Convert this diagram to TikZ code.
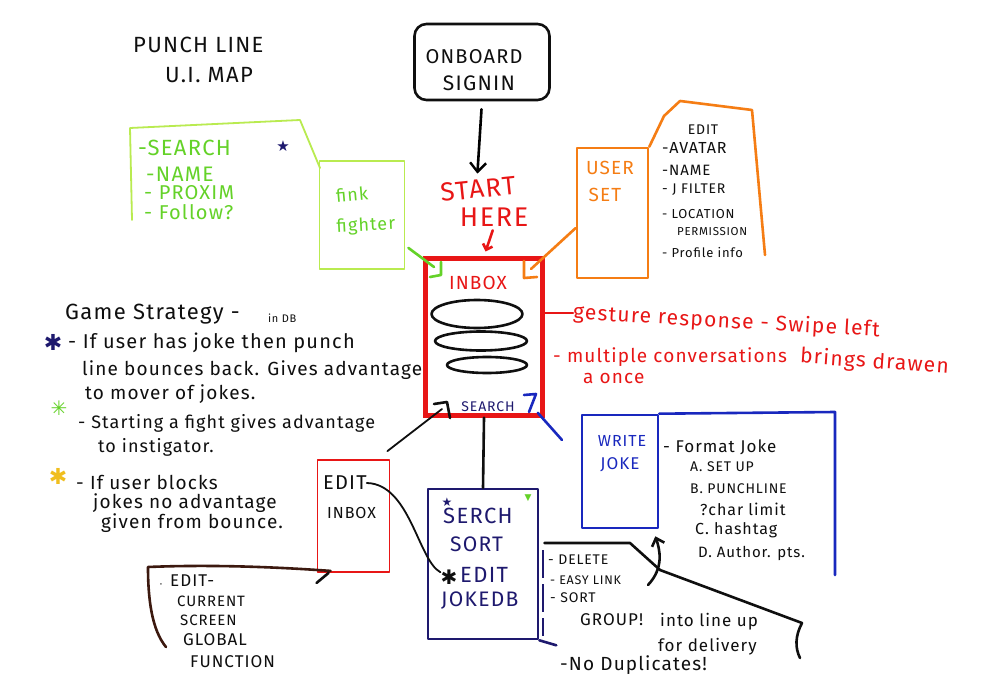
\documentclass[tikz,border=0pt]{standalone}
\usepackage{fontspec}
\setmainfont{Fira Sans}[LetterSpace=6]
\newfontfamily\symf{DejaVu Sans}
\usetikzlibrary{arrows.meta,calc,shapes.geometric}
\definecolor{mred}{RGB}{232,22,22}
\definecolor{mgreen}{RGB}{100,210,40}
\definecolor{mlgreen}{RGB}{185,235,80}
\definecolor{morange}{RGB}{245,125,20}
\definecolor{myellow}{RGB}{240,190,30}
\definecolor{mnavy}{RGB}{30,25,110}
\definecolor{mblue}{RGB}{25,40,190}
\definecolor{mink}{RGB}{15,15,15}
\definecolor{mbrown}{RGB}{60,25,15}
\newcommand\fsz[1]{\fontsize{#1}{#1}\selectfont}
\tikzset{
  pen/.style={line width=2.6pt,line cap=round,line join=round},
  thinpen/.style={line width=1.8pt,line cap=round,line join=round},
  lbl/.style={inner sep=0pt,anchor=west,text=mink},
  clbl/.style={inner sep=0pt,anchor=center,text=mink},
  barb/.style={-{Straight Barb[length=9pt,width=16pt,line width=2.4pt]}},
}
\begin{document}
\begin{tikzpicture}[x=1pt,y=-1pt]
\useasboundingbox[fill=white] (0,0) rectangle (1000,700);

% ---------- title
\node[lbl,font=\fsz{22}] (t1) at (133,45) {PUNCH LINE};
\node[lbl,font=\fsz{22}] (t2) at (165,75) {U.I. MAP};

% ---------- onboard
\node[draw=mink,pen,rounded corners=12pt,minimum width=135pt,minimum height=76pt] (onb) at (482,62) {};
\node[clbl,font=\fsz{20}] (onb1) at (474,57) {ONBOARD};
\node[clbl,font=\fsz{21}] (onb2) at (479,83) {SIGNIN};

% ---------- start here
\node[clbl,font=\fsz{26},text=mred,rotate=6] (st1) at (478,189) {START};
\node[clbl,font=\fsz{27},text=mred] (st2) at (494,217) {HERE};
\draw[pen,barb,shorten <=8pt,shorten >=6pt] (onb.south) -- (st1.north);

% ---------- inbox
\node[draw=mred,line width=4.5pt,minimum width=117pt,minimum height=157pt] (inbox) at (484,337) {};
\draw[mred,pen,-{Straight Barb[length=5pt,width=10pt]},shorten <=4pt,shorten >=5pt] (st2.south) -- (inbox.north);
\node[clbl,font=\fsz{19},text=mred] (inb) at (478,283) {INBOX};
\node[draw=mink,pen,ellipse,minimum width=91pt,minimum height=28pt,inner sep=0pt] (el1) at (477,314) {};
\node[draw=mink,pen,ellipse,minimum width=92pt,minimum height=19pt,inner sep=0pt] (el2) at (481,341) {};
\node[draw=mink,pen,ellipse,minimum width=80pt,minimum height=16pt,inner sep=0pt] (el3) at (487,365) {};
\node[clbl,font=\fsz{14},text=mnavy] (srch) at (488,407) {SEARCH};
\draw[mink,pen] (434,404) -- (447,402) -- (450,418);
\draw[mblue,pen] (524,395) -- (536,394) -- (529,412);
% corner squares
\draw[mgreen,pen] (441,262) -- (441,275) -- (430,277);
\draw[morange,pen] (524,261) -- (524,278) -- (537,277);

% ---------- green search / fink fighter
\draw[mlgreen,thinpen] (132,220) -- (130,128) -- (300,120) -- (320,168);
\node[lbl,font=\fsz{22},text=mgreen] (g1) at (138,148) {-SEARCH};
\node[font=\symf\fsz{15},text=mnavy,inner sep=0pt] (gstar) at (283,146) {★};
\node[lbl,font=\fsz{21},text=mgreen] (g2) at (146,174) {-NAME};
\node[lbl,font=\fsz{20},text=mgreen] (g3) at (144,193) {- PROXIM};
\node[lbl,font=\fsz{20},text=mgreen] (g4) at (144,212) {- Follow?};
\node[draw=mlgreen,thinpen,minimum width=85pt,minimum height=108pt] (fink) at (362,215) {};
\node[clbl,font=\fsz{18},text=mgreen,rotate=5] (f1) at (352,194) {fink};
\node[clbl,font=\fsz{18},text=mgreen,rotate=3] (f2) at (366,226) {fighter};
\coordinate (gsq) at (434,267);
\draw[mgreen,pen] ($(fink.south east)+(3,-22)$) -- (gsq);

% ---------- user set
\node[draw=morange,pen,minimum width=71pt,minimum height=130pt] (uset) at (612.5,213) {};
\node[clbl,font=\fsz{19},text=morange] (u1) at (610,168) {USER};
\node[clbl,font=\fsz{19},text=morange] (u2) at (605,195) {SET};
\draw[morange,pen] (uset.north east) -- (664,116) -- (680,101) -- (752,110) -- (765,255);
\coordinate (osq) at (531,269);
\draw[morange,pen] (osq) -- ($(uset.west)+(0,15)$);
\node[clbl,font=\fsz{14}] (p0) at (703,130) {EDIT};
\node[lbl,font=\fsz{16}] (p1) at (662,148) {-AVATAR};
\node[lbl,font=\fsz{15}] (p2) at (662,170) {-NAME};
\node[lbl,font=\fsz{14}] (p3) at (662,190) {- J FILTER};
\node[lbl,font=\fsz{13}] (p4) at (662,214) {- LOCATION};
\node[lbl,font=\fsz{11.5}] (p5) at (677,232) {PERMISSION};
\node[lbl,font=\fsz{13}] (p6) at (662,253) {- Profile info};

% ---------- gesture
\node[lbl,font=\fsz{21},text=mred,rotate=-3.3] (ges) at (573,313) {gesture response - Swipe left};
\draw[mred,pen] (inbox.east |- ges.west) -- (ges.west);
\node[lbl,font=\fsz{19},text=mred] (mul) at (553,357) {- multiple conversations};
\node[lbl,font=\fsz{19},text=mred] (once) at (583,378) {a once};
\node[lbl,font=\fsz{21},text=mred,rotate=-4] (brg) at (800,357) {brings drawen};

% ---------- game strategy
\node[lbl,font=\fsz{22}] (gs0) at (65,314) {Game Strategy -};
\node[lbl,font=\fsz{11}] (gsdb) at (268,318) {in DB};
\node[font=\symf\fsz{22},text=mnavy,inner sep=0pt] (s1) at (53,342) {✱};
\node[lbl,font=\fsz{20}] (gs1) at (68,343) {- If user has joke then punch};
\node[lbl,font=\fsz{19}] (gs2) at (82,370) {line bounces back. Gives advantage};
\node[lbl,font=\fsz{19}] (gs3) at (85,394) {to mover of jokes.};
\node[font=\symf\fsz{20},text=mgreen,inner sep=0pt] (s2) at (59,408) {✳};
\node[lbl,font=\fsz{18}] (gs4) at (78,423) {- Starting a fight gives advantage};
\node[lbl,font=\fsz{18}] (gs5) at (98,447) {to instigator.};
\node[font=\symf\fsz{22},text=myellow,inner sep=0pt] (s3) at (58,476) {✱};
\node[lbl,font=\fsz{19}] (gs6) at (76,482) {- If user blocks};
\node[lbl,font=\fsz{19}] (gs7) at (93,503) {jokes no advantage};
\node[lbl,font=\fsz{19}] (gs8) at (101,523) {given from bounce.};

% ---------- edit inbox
\node[draw=mred,thinpen,minimum width=72pt,minimum height=112pt] (einb) at (353.5,516) {};
\node[lbl,font=\fsz{20}] (ei1) at (323,483) {EDIT};
\node[lbl,font=\fsz{16}] (ei2) at (327,513) {INBOX};
\coordinate (sbr) at (442,409);
\draw[mink,thinpen] ($(einb.north east)+(-3,-8)$) -- (sbr);

% ---------- edit current screen bracket
\draw[mbrown,pen] (166,647) .. controls (152,630) and (148,600) .. (148,567) .. controls (220,564) and (290,568) .. ($(einb.south west)+(14,-2)$);
\draw[mink,pen] ($(einb.south west)+(12,0)$) -- ++(-12,10);
\node[font=\fsz{10},inner sep=0pt] (dot) at (161,586) {·};
\node[lbl,font=\fsz{17}] (c1) at (170,581) {EDIT-};
\node[lbl,font=\fsz{15}] (c2) at (177,601) {CURRENT};
\node[lbl,font=\fsz{15}] (c3) at (180,620) {SCREEN};
\node[lbl,font=\fsz{17}] (c4) at (183,640) {GLOBAL};
\node[lbl,font=\fsz{17}] (c5) at (190,662) {FUNCTION};

% ---------- joke db
\node[draw=mnavy,pen,minimum width=110pt,minimum height=150pt] (jdb) at (483,564) {};
\draw[mnavy,pen] (jdb.south east) -- ++(17,5);
\draw[mink,pen] (inbox.south) -- (jdb.north);
\node[font=\symf\fsz{12},text=mnavy,inner sep=0pt] (jstar0) at (447,502) {★};
\node[font=\symf\fsz{9},text=mgreen,inner sep=0pt] (jtri) at (528,498) {▼};
\node[lbl,font=\fsz{22},text=mnavy] (j1) at (443,516) {SERCH};
\node[lbl,font=\fsz{21},text=mnavy] (j2) at (450,544) {SORT};
\node[font=\symf\fsz{20},text=mink,inner sep=0pt] (jstar) at (449,577) {✱};
\node[lbl,font=\fsz{22},text=mnavy] (j3) at (460,575) {EDIT};
\node[lbl,font=\fsz{21},text=mnavy] (j4) at (441,601) {JOKEDB};
\draw[mink,thinpen] (ei1.east) .. controls (410,484) and (418,560) .. (jstar);
\draw[mnavy,line width=2pt,dash pattern=on 28pt off 6pt] ($(jdb.east)+(4,-14)$) -- ($(jdb.south east)+(4,-4)$);

% ---------- write joke
\node[draw=mblue,pen,minimum width=76pt,minimum height=113pt] (wj) at (620,471.5) {};
\draw[mblue,pen] (wj.north east) -- (835,412) -- (835,575);
\node[clbl,font=\fsz{16},text=mblue] (w1) at (622,441) {WRITE};
\node[clbl,font=\fsz{17},text=mblue] (w2) at (620,465) {JOKE};
\node[lbl,font=\fsz{17}] (k0) at (663,447) {- Format Joke};
\node[lbl,font=\fsz{14}] (k1) at (690,467) {A. SET UP};
\node[lbl,font=\fsz{14}] (k2) at (690,489) {B. PUNCHLINE};
\node[lbl,font=\fsz{16}] (k3) at (700,509) {?char limit};
\node[lbl,font=\fsz{16}] (k4) at (695,530) {C. hashtag};
\node[lbl,font=\fsz{15}] (k5) at (698,553) {D. Author. pts.};
\coordinate (arrs) at (648,585);
\draw[mink,pen,-{Straight Barb[length=7pt,width=13pt]}] (arrs) .. controls (664,568) and (660,550) .. ($(wj.south east)+(-4,7)$);

% ---------- joke db details
\coordinate (hook) at (800,658);
\draw[mink,pen] ($(jdb.east)+(5,-21)$) -- (630,543) -- (660,570) -- (802,623) .. controls (795,636) and (795,648) .. (hook);
\node[lbl,font=\fsz{14}] (d1) at (548,560) {- DELETE};
\node[lbl,font=\fsz{12.5}] (d2) at (550,580) {- EASY LINK};
\node[lbl,font=\fsz{14}] (d3) at (550,598) {- SORT};
\node[lbl,font=\fsz{17}] (d4) at (580,620) {GROUP!};
\node[lbl,font=\fsz{17}] (d5) at (660,622) {into line up};
\node[lbl,font=\fsz{17}] (d6) at (658,647) {for delivery};
\node[lbl,font=\fsz{19}] (d7) at (560,665) {-No Duplicates!};

% ---------- blue stub
\coordinate (bl) at (562,440);
\draw[mblue,pen] ($(inbox.south east)+(-7,-5)$) -- (bl);
\end{tikzpicture}
\end{document}
